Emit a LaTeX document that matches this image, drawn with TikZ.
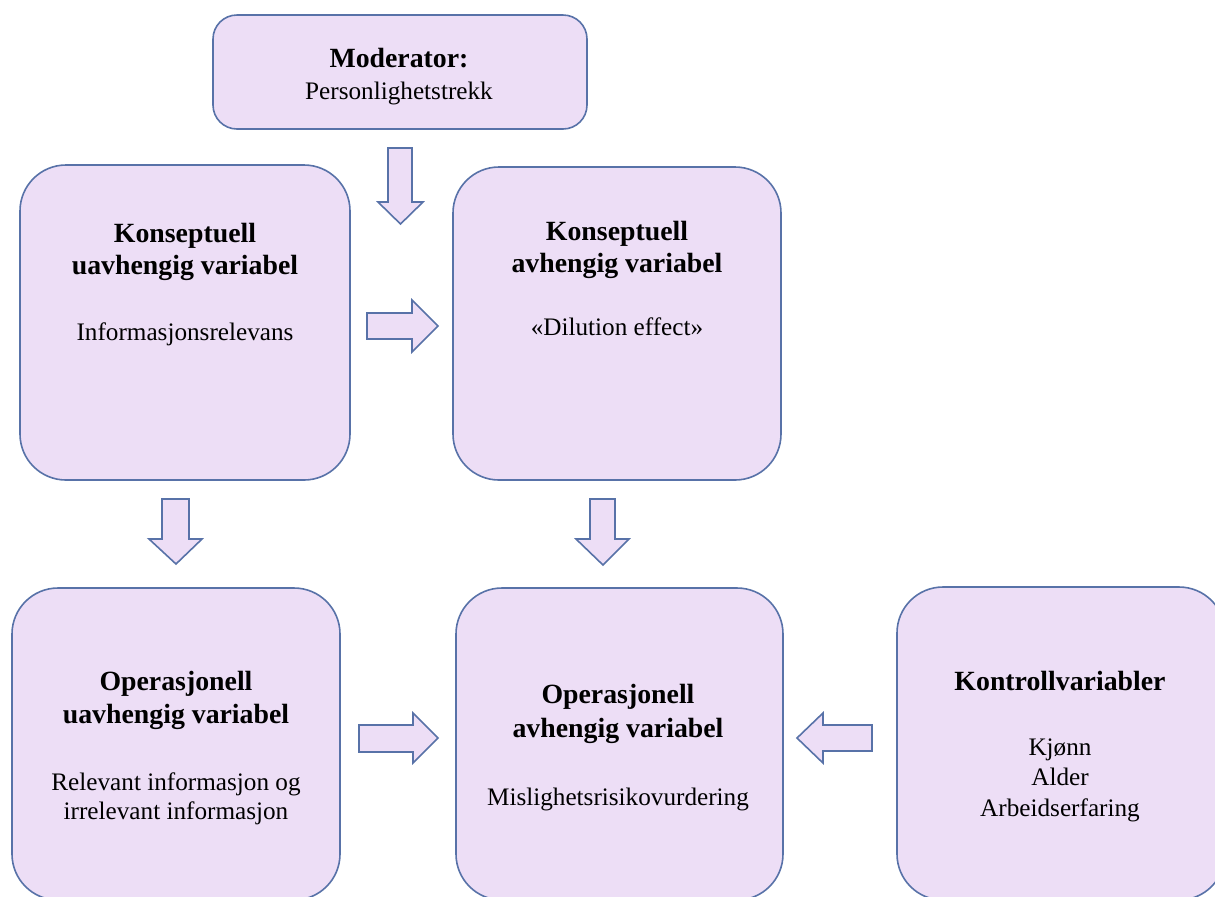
\documentclass[tikz,border=0pt]{standalone}
\usepackage{fontspec}
\setmainfont{Liberation Serif}
\definecolor{boxfill}{RGB}{237,222,246}
\definecolor{boxline}{RGB}{88,114,168}
\tikzset{
  box/.style={draw=boxline, fill=boxfill, line width=0.8pt, rounded corners=23pt, inner sep=0pt},
  modbox/.style={box, rounded corners=12pt},
  blockarrow/.style={draw=boxline, fill=boxfill, line width=0.8pt, line join=miter},
  hd/.style={anchor=base, font=\fontsize{13.9}{16}\selectfont\bfseries, inner sep=0pt},
  tx/.style={anchor=base, font=\fontsize{12.6}{15}\selectfont, inner sep=0pt}
}
\begin{document}
\begin{tikzpicture}[x=0.5pt,y=-0.5pt]
\useasboundingbox (0,0) rectangle (1215,896);
\fill[white] (0,0) rectangle (1215,896);
\clip (0,0) rectangle (1215,896);

% boxes
\node[modbox, minimum width=187pt, minimum height=57pt] (mod) at (400,72) {};
\node[box, minimum width=165pt, minimum height=157.5pt] (ku) at (185,322.5) {};
\node[box, minimum width=164pt, minimum height=156.5pt] (ka) at (617,323.5) {};
\node[box, minimum width=164pt, minimum height=156pt] (ou) at (176,744) {};
\node[box, minimum width=163.5pt, minimum height=156pt] (oa) at (619.5,744) {};
\node[box, minimum width=164pt, minimum height=156.5pt] (kv) at (1061,743.5) {};

% texts
\node[hd] (modh) at (399,67) {Moderator:};
\node[tx] (modt) at (399,99) {Personlighetstrekk};

\node[hd] (kuh1) at (185,242) {Konseptuell};
\node[hd] (kuh2) at (185,274) {uavhengig variabel};
\node[tx] (kut) at (185,340) {Informasjonsrelevans};

\node[hd] (kah1) at (617,240) {Konseptuell};
\node[hd] (kah2) at (617,272) {avhengig variabel};
\node[tx] (kat) at (617,335) {«Dilution effect»};

\node[hd] (ouh1) at (176,690) {Operasjonell};
\node[hd] (ouh2) at (176,723) {uavhengig variabel};
\node[tx] (out1) at (176,790) {Relevant informasjon og};
\node[tx] (out2) at (176,819) {irrelevant informasjon};

\node[hd] (oah1) at (618,703) {Operasjonell};
\node[hd] (oah2) at (618,737) {avhengig variabel};
\node[tx] (oat) at (618,805) {Mislighetsrisikovurdering};

\node[hd] (kvh) at (1060,690) {Kontrollvariabler};
\node[tx] (kvt1) at (1060,755) {Kjønn};
\node[tx] (kvt2) at (1060,785) {Alder};
\node[tx] (kvt3) at (1060,816) {Arbeidserfaring};

% block arrows
% moderator -> ka (down)
\draw[blockarrow] (388,148) -- (412,148) -- (412,202) -- (423,202) -- (400.5,224) -- (378,202) -- (388,202) -- cycle;
% ku -> ka (right)
\draw[blockarrow] (367,313) -- (412,313) -- (412,300) -- (438,326) -- (412,352) -- (412,339) -- (367,339) -- cycle;
% ku -> ou (down)
\draw[blockarrow] (162,499) -- (189,499) -- (189,539) -- (202,539) -- (176,564) -- (149,539) -- (162,539) -- cycle;
% ka -> oa (down)
\draw[blockarrow] (590,499) -- (615,499) -- (615,539) -- (629,539) -- (603,565) -- (576,539) -- (590,539) -- cycle;
% ou -> oa (right)
\draw[blockarrow] (359,725) -- (413,725) -- (413,713) -- (438,738) -- (413,763) -- (413,752) -- (359,752) -- cycle;
% kv -> oa (left)
\draw[blockarrow] (872,725) -- (823,725) -- (823,713) -- (797,738) -- (823,763) -- (823,751) -- (872,751) -- cycle;
\end{tikzpicture}
\end{document}
